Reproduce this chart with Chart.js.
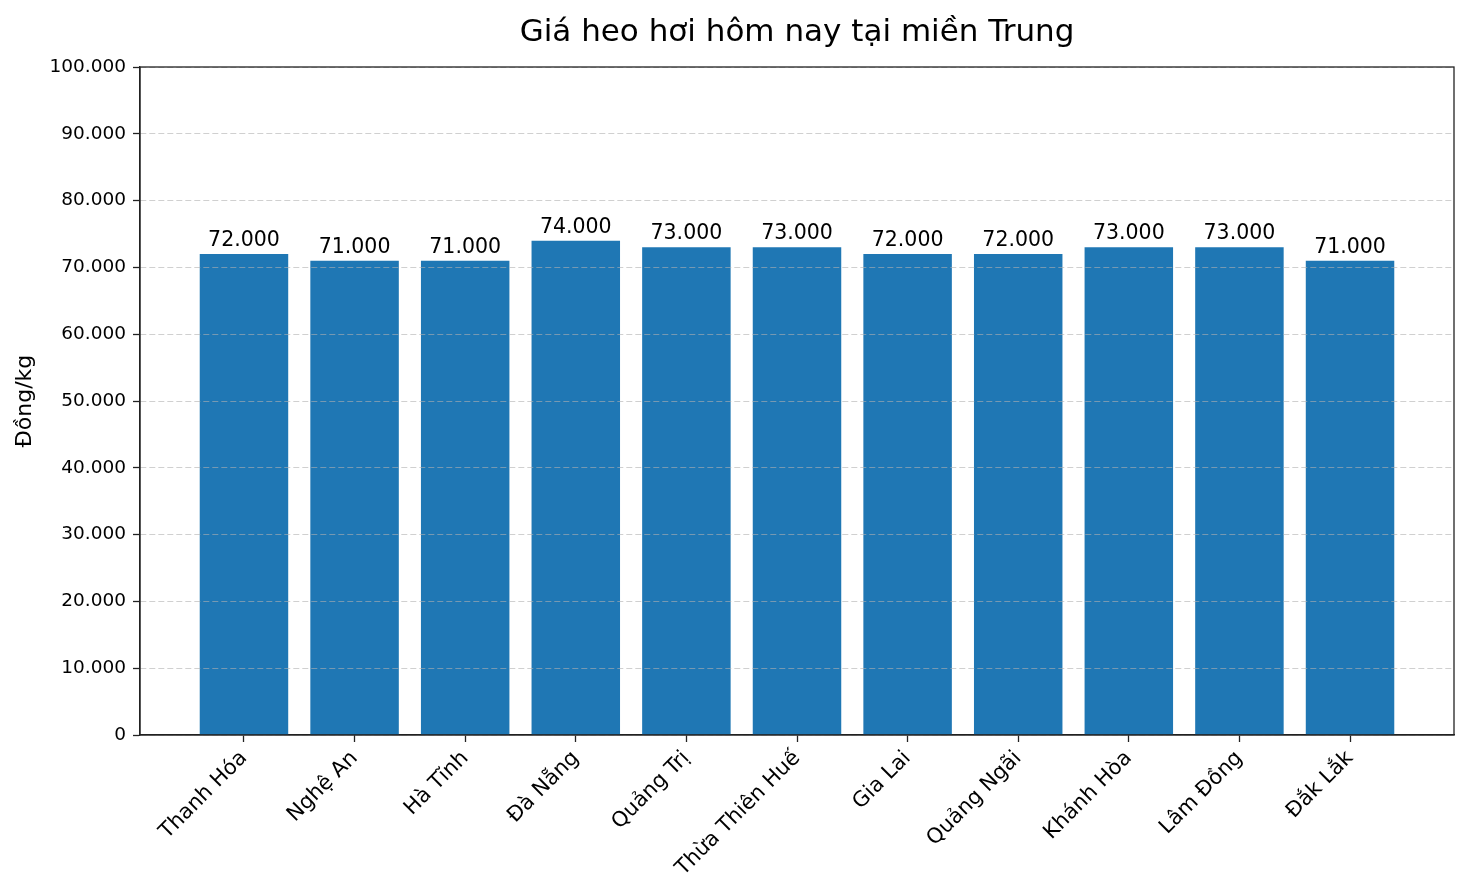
<!DOCTYPE html>
<html>
<head>
<meta charset="utf-8">
<script src="https://cdn.jsdelivr.net/npm/chart.js@4/dist/chart.umd.min.js"></script>
<style>
  html, body { margin: 0; padding: 0; background: #fff; }
  canvas { display: block; }
</style>
</head>
<body>
<canvas id="priceChart" width="1468" height="896"></canvas>
<script>
// Data
const regions = ['Thanh Hóa', 'Nghệ An', 'Hà Tĩnh', 'Đà Nẵng', 'Quảng Trị', 'Thừa Thiên Huế',
                 'Gia Lai', 'Quảng Ngãi', 'Khánh Hòa', 'Lâm Đồng', 'Đắk Lắk'];
const prices = [72000, 71000, 71000, 74000, 73000, 73000, 72000, 72000, 73000, 73000, 71000];
const yTicks = [0, 10000, 20000, 30000, 40000, 50000, 60000, 70000, 80000, 90000, 100000];
const chartTitle = 'Giá heo hơi hôm nay tại miền Trung';

const FONT = "'DejaVu Sans', sans-serif";

function formatDot(value) {
    return String(value).replace(/\B(?=(\d{3})+(?!\d))/g, '.');
}

// value labels above each bar
const barLabels = {
    id: 'barLabels',
    afterDraw(chart) {
        const ctx = chart.ctx;
        const meta = chart.getDatasetMeta(0);
        ctx.save();
        ctx.font = '20.5px ' + FONT;
        ctx.fillStyle = '#000';
        ctx.textAlign = 'center';
        ctx.textBaseline = 'alphabetic';
        meta.data.forEach((bar, i) => {
            ctx.fillText(formatDot(prices[i]), bar.x, bar.y - 8);
        });
        ctx.restore();
    }
};

// title centred over the plot area, plus the box around it (matplotlib spines)
const frame = {
    id: 'frame',
    afterDraw(chart) {
        const { left, top, right, bottom } = chart.chartArea;
        const ctx = chart.ctx;
        ctx.save();
        ctx.strokeStyle = '#222';
        ctx.lineWidth = 1.3;
        ctx.strokeRect(left, top, right - left, bottom - top);

        ctx.font = '31px ' + FONT;
        ctx.fillStyle = '#000';
        ctx.textAlign = 'center';
        ctx.textBaseline = 'alphabetic';
        ctx.fillText(chartTitle, (left + right) / 2, 41);
        ctx.restore();
    }
};

const ctx = document.getElementById('priceChart').getContext('2d');

new Chart(ctx, {
    type: 'bar',
    data: {
        datasets: [{
            data: prices.map((v, i) => ({ x: i, y: v })),
            backgroundColor: '#1f77b4',
            borderWidth: 0,
            categoryPercentage: 1.0,
            barPercentage: 0.8
        }]
    },
    options: {
        responsive: false,
        animation: false,
        devicePixelRatio: 1,
        layout: {
            padding: { left: 0, right: 14, top: 67, bottom: 0 }
        },
        plugins: {
            legend: { display: false },
            tooltip: { enabled: false },
            title: { display: false }
        },
        scales: {
            x: {
                type: 'linear',
                offset: false,
                min: -0.94,
                max: regions.length - 1 + 0.94,
                afterBuildTicks(scale) {
                    scale.ticks = regions.map((_, i) => ({ value: i }));
                },
                afterFit(scale) {
                    scale.height = 161;
                },
                border: { display: true, color: '#222', width: 1.3 },
                grid: {
                    offset: false,
                    drawOnChartArea: false,
                    drawTicks: true,
                    tickLength: 7,
                    tickColor: '#222',
                    tickWidth: 1.3
                },
                ticks: {
                    autoSkip: false,
                    minRotation: 45,
                    maxRotation: 45,
                    padding: 4,
                    color: '#000',
                    font: { family: FONT, size: 21 },
                    callback: (value) => regions[value]
                }
            },
            y: {
                min: 0,
                max: 100000,
                afterBuildTicks(scale) {
                    scale.ticks = yTicks.map(v => ({ value: v }));
                },
                afterFit(scale) {
                    scale.width = 140;
                },
                // grid goes above the bars; border layer must follow it
                border: { display: true, color: '#222', width: 1.3, dash: [6, 3], z: 1 },
                grid: {
                    z: 1,
                    color: 'rgba(176, 176, 176, 0.6)',
                    lineWidth: 1,
                    drawTicks: true,
                    tickLength: 7,
                    tickColor: '#222',
                    tickWidth: 1.3,
                    tickBorderDash: []
                },
                ticks: {
                    padding: 7,
                    color: '#000',
                    font: { family: FONT, size: 18.5 },
                    callback: (value) => formatDot(value)
                },
                title: {
                    display: true,
                    text: 'Đồng/kg',
                    color: '#000',
                    font: { family: FONT, size: 22 },
                    padding: { top: 12, bottom: 0 }
                }
            }
        }
    },
    plugins: [barLabels, frame]
});
</script>
</body>
</html>
